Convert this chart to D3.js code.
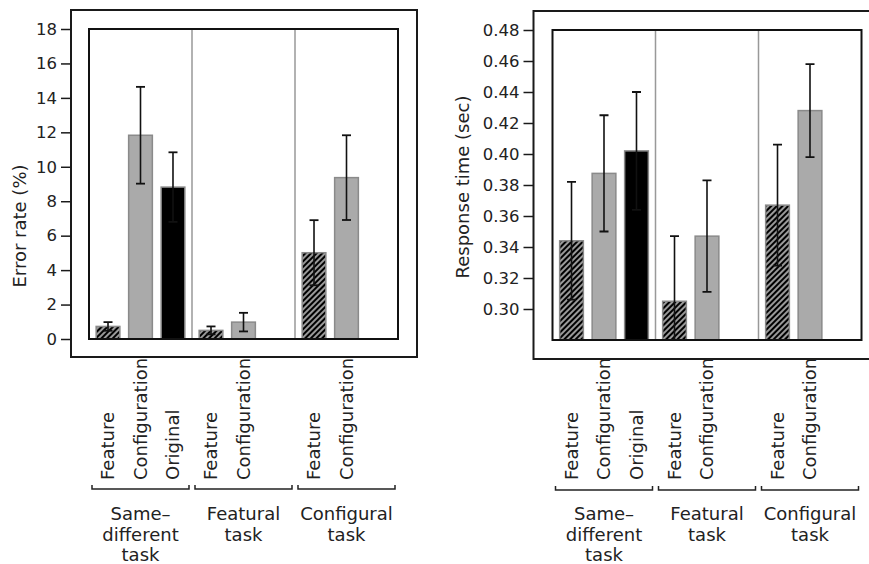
<!DOCTYPE html>
<html><head><meta charset="utf-8">
<script src="https://cdn.jsdelivr.net/npm/d3@7"></script>
<style>
body{margin:0;background:#fff}
svg{display:block}
text{font-family:"DejaVu Sans",Verdana,sans-serif;fill:#222}
</style>
</head><body><svg id="c" width="869" height="564"></svg>
<script>
// ---- data ----
const groups = ["Same-different task", "Featural task", "Configural task"];
const groupLabelLines = [["Same–", "different", "task"], ["Featural", "task"], ["Configural", "task"]];
const conditions = [["Feature", "Configuration", "Original"], ["Feature", "Configuration"], ["Feature", "Configuration"]];
const errorRate = [[0.73, 11.83, 8.82], [0.5, 0.98], [5.01, 9.37]];
const errorRateErr = [[0.25, 2.81, 2.02], [0.23, 0.54], [1.89, 2.46]];
const responseTime = [[0.344, 0.3875, 0.402], [0.305, 0.347], [0.367, 0.428]];
const responseTimeErr = [[0.038, 0.0375, 0.038], [0.042, 0.036], [0.039, 0.030]];
const errorRateTicks = [0, 2, 4, 6, 8, 10, 12, 14, 16, 18];
const responseTimeTicks = [0.30, 0.32, 0.34, 0.36, 0.38, 0.40, 0.42, 0.44, 0.46, 0.48];

const svg = d3.select("#c");
const defs = svg.append("defs");
const pat = defs.append("pattern").attr("id", "hatch").attr("patternUnits", "userSpaceOnUse")
  .attr("width", 4).attr("height", 4).attr("patternTransform", "rotate(45)");
pat.append("rect").attr("width", 4).attr("height", 4).attr("fill", "#000");
pat.append("line").attr("x1", 1).attr("y1", 0).attr("x2", 1).attr("y2", 4)
  .attr("stroke", "#fff").attr("stroke-width", 1.2);

const fillFor = {Feature: "url(#hatch)", Configuration: "#aaaaaa", Original: "#000"};

function drawPanel(cfg) {
  const g = svg.append("g");
  const {outer, inner} = cfg;
  const y = d3.scaleLinear().domain(cfg.domain).range([inner.y + inner.h, inner.y]);
  const x0 = d3.scaleBand().domain(groups).range([inner.x, inner.x + inner.w]).padding(0);
  const x1 = d3.scaleBand().domain([0, 1, 2]).range([0, x0.bandwidth()])
    .paddingInner(0.27).paddingOuter(0.22);

  const clipId = "clip" + cfg.id;
  defs.append("clipPath").attr("id", clipId).append("rect")
    .attr("x", inner.x).attr("y", inner.y).attr("width", inner.w).attr("height", inner.h);

  // outer frame
  g.append("rect").attr("x", outer.x).attr("y", outer.y).attr("width", outer.w).attr("height", outer.h)
    .attr("fill", "none").attr("stroke", "#1a1a1a").attr("stroke-width", 2);

  // y axis on the outer frame
  const ax = g.append("g").attr("transform", `translate(${outer.x},0)`)
    .call(d3.axisLeft(y).tickValues(cfg.ticks).tickSize(10).tickPadding(4).tickFormat(cfg.fmt));
  ax.select(".domain").remove();
  ax.selectAll(".tick line").attr("stroke", "#1a1a1a").attr("stroke-width", 1.5);
  ax.selectAll(".tick text").attr("font-size", 16.5).attr("fill", "#222")
    .attr("font-family", '"DejaVu Sans",Verdana,sans-serif');

  // y title
  g.append("text").attr("transform", `translate(${cfg.titlePos[0]},${cfg.titlePos[1]}) rotate(-90)`)
    .attr("text-anchor", "middle").attr("dy", "0.35em").attr("font-size", 18).text(cfg.title);

  // group dividers
  g.selectAll(".div").data(groups.slice(1)).join("line")
    .attr("x1", d => x0(d)).attr("x2", d => x0(d))
    .attr("y1", inner.y).attr("y2", inner.y + inner.h)
    .attr("stroke", "#999").attr("stroke-width", 1.5);

  // bars
  const flat = [];
  groups.forEach((gr, gi) => conditions[gi].forEach((c, ci) => flat.push({
    gr, gi, c, ci, v: cfg.values[gi][ci], e: cfg.errs[gi][ci]
  })));
  const bx = d => x0(d.gr) + x1(d.ci);
  const bars = g.append("g").attr("clip-path", `url(#${clipId})`);
  bars.selectAll("rect").data(flat).join("rect")
    .attr("x", bx).attr("width", x1.bandwidth())
    .attr("y", d => y(d.v)).attr("height", d => inner.y + inner.h - y(d.v))
    .attr("fill", d => fillFor[d.c]).attr("stroke", "#8a8a8a").attr("stroke-width", 1.5);

  // error bars
  const eb = g.append("g").attr("clip-path", `url(#${clipId})`)
    .selectAll("g").data(flat).join("g");
  const cx = d => bx(d) + x1.bandwidth() / 2;
  eb.append("line").attr("x1", cx).attr("x2", cx)
    .attr("y1", d => y(d.v + d.e)).attr("y2", d => y(d.v - d.e))
    .attr("stroke", "#111").attr("stroke-width", 1.6);
  [1, -1].forEach(s => eb.append("line")
    .attr("x1", d => cx(d) - 4.5).attr("x2", d => cx(d) + 4.5)
    .attr("y1", d => y(d.v + s * d.e)).attr("y2", d => y(d.v + s * d.e))
    .attr("stroke", "#111").attr("stroke-width", 1.8));

  // inner frame
  g.append("rect").attr("x", inner.x).attr("y", inner.y).attr("width", inner.w).attr("height", inner.h)
    .attr("fill", "none").attr("stroke", "#111").attr("stroke-width", 2);

  // condition labels
  g.selectAll(".cl").data(flat).join("text")
    .attr("transform", d => `translate(${cx(d)},${cfg.labelBase}) rotate(-90)`)
    .attr("dy", "0.36em").attr("font-size", 18).text(d => d.c);

  // brackets
  const by = cfg.bracketY;
  g.selectAll(".br").data(groups).join("path")
    .attr("d", d => {
      const a = x0(d) + 3, b = x0(d) + x0.bandwidth() - 3;
      return `M${a},${by - 4}V${by}H${b}V${by - 4}`;
    })
    .attr("fill", "none").attr("stroke", "#222").attr("stroke-width", 1.5);

  // group labels
  groups.forEach((gr, gi) => {
    const t = g.append("text").attr("text-anchor", "middle").attr("font-size", 18);
    groupLabelLines[gi].forEach((ln, li) => t.append("tspan")
      .attr("x", x0(gr) + x0.bandwidth() / 2).attr("y", cfg.groupLabelY + li * 20.5).text(ln));
  });
}

drawPanel({
  id: "L",
  outer: {x: 71, y: 10, w: 346, h: 347},
  inner: {x: 89, y: 29, w: 309, h: 310},
  domain: [0, 18], ticks: errorRateTicks, fmt: d3.format("d"),
  values: errorRate, errs: errorRateErr,
  title: "Error rate (%)", titlePos: [20, 226],
  labelBase: 480, bracketY: 489, groupLabelY: 520
});
drawPanel({
  id: "R",
  outer: {x: 533.5, y: 11, w: 400, h: 348},
  inner: {x: 552.5, y: 30, w: 309, h: 310},
  domain: [0.28, 0.48], ticks: responseTimeTicks, fmt: d3.format(".2f"),
  values: responseTime, errs: responseTimeErr,
  title: "Response time (sec)", titlePos: [463, 187],
  labelBase: 480, bracketY: 490, groupLabelY: 520
});
</script></body></html>
